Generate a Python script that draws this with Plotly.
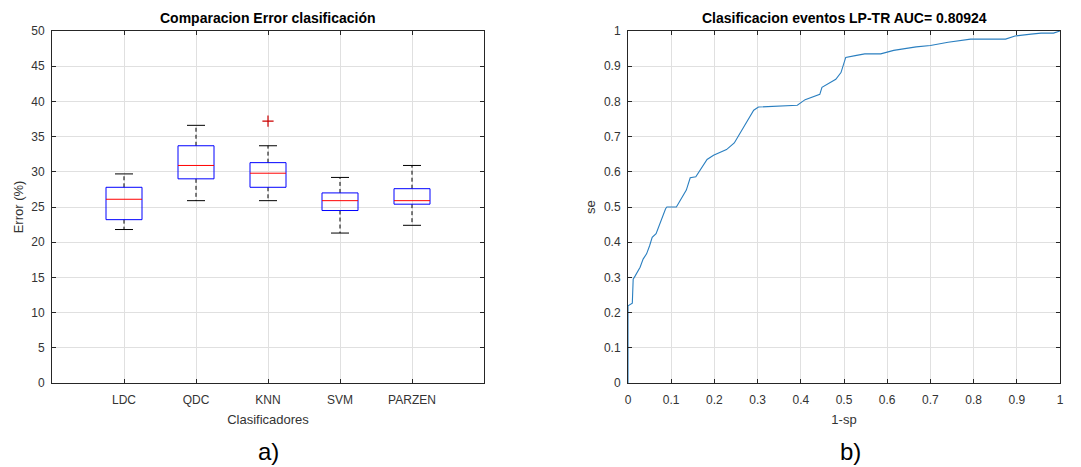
import plotly.graph_objects as go

# ---------------- data ----------------
categories = ["LDC", "QDC", "KNN", "SVM", "PARZEN"]
positions = [1, 2, 3, 4, 5]
lower_whisker = [21.8, 25.9, 25.9, 21.3, 22.4]
q1 = [23.2, 29.0, 27.8, 24.5, 25.4]
median = [26.1, 30.9, 29.8, 25.9, 25.9]
q3 = [27.8, 33.7, 31.3, 27.0, 27.6]
upper_whisker = [29.7, 36.6, 33.7, 29.2, 30.9]
outlier_pos = [3]
outlier_val = [37.2]

fpr = [0, 0, 0.01, 0.012, 0.017, 0.028, 0.035, 0.043, 0.05, 0.056, 0.065, 0.072,
       0.087, 0.09, 0.112, 0.135, 0.144, 0.157, 0.168, 0.183, 0.198, 0.228, 0.246,
       0.257, 0.272, 0.291, 0.302, 0.392, 0.41, 0.444, 0.449, 0.466, 0.481, 0.493,
       0.504, 0.526, 0.548, 0.585, 0.615, 0.667, 0.7, 0.741, 0.793, 0.874, 0.896,
       0.933, 0.956, 0.985, 1.0]
tpr = [0, 0.219, 0.227, 0.295, 0.305, 0.329, 0.352, 0.367, 0.39, 0.414, 0.424, 0.448,
       0.495, 0.5, 0.5, 0.548, 0.583, 0.586, 0.607, 0.635, 0.647, 0.663, 0.682,
       0.705, 0.733, 0.775, 0.784, 0.789, 0.805, 0.82, 0.84, 0.851, 0.863, 0.882,
       0.925, 0.93, 0.935, 0.935, 0.945, 0.955, 0.959, 0.968, 0.977, 0.977, 0.986,
       0.991, 0.994, 0.994, 1.0]

auc_value = "0.80924"

# ---------------- styling ----------------
BOX_W = 0.5
CAP_W = 0.25
FONT = "Liberation Sans, Arial, sans-serif"
TICK_COLOR = "#333333"
AX_COLOR = "#262626"
GRID = "#e0e0e0"

# ---------------- build box-plot marks ----------------
bx, by = [], []
mx, my = [], []
wx, wy = [], []
cx, cy = [], []
for p, lo, a, m, b, hi in zip(positions, lower_whisker, q1, median, q3, upper_whisker):
    h = BOX_W / 2
    bx += [p - h, p + h, p + h, p - h, p - h, None]
    by += [a, a, b, b, a, None]
    mx += [p - h, p + h, None]
    my += [m, m, None]
    wx += [p, p, None, p, p, None]
    wy += [b, hi, None, a, lo, None]
    c = CAP_W / 2
    cx += [p - c, p + c, None, p - c, p + c, None]
    cy += [hi, hi, None, lo, lo, None]

fig = go.Figure()
fig.add_trace(go.Scatter(x=wx, y=wy, mode="lines", xaxis="x", yaxis="y",
                         line=dict(color="black", width=1, dash="4px,3px"),
                         showlegend=False, hoverinfo="skip"))
fig.add_trace(go.Scatter(x=cx, y=cy, mode="lines", xaxis="x", yaxis="y",
                         line=dict(color="black", width=1),
                         showlegend=False, hoverinfo="skip"))
fig.add_trace(go.Scatter(x=bx, y=by, mode="lines", xaxis="x", yaxis="y",
                         line=dict(color="#0000ff", width=1),
                         showlegend=False, hoverinfo="skip"))
fig.add_trace(go.Scatter(x=mx, y=my, mode="lines", xaxis="x", yaxis="y",
                         line=dict(color="#ff0000", width=1),
                         showlegend=False, hoverinfo="skip"))
fig.add_trace(go.Scatter(x=outlier_pos, y=outlier_val, mode="markers", xaxis="x", yaxis="y",
                         marker=dict(symbol="cross-thin", size=8,
                                     line=dict(color="#cc0000", width=1.2)),
                         showlegend=False, hoverinfo="skip"))

# ---------------- ROC curve ----------------
fig.add_trace(go.Scatter(x=fpr, y=tpr, mode="lines", xaxis="x2", yaxis="y2",
                         line=dict(color="#2a7fc0", width=1.1),
                         showlegend=False, hoverinfo="skip"))

W, H = 1081, 467
L1, R1 = 52, 484
L2, R2 = 628, 1060
TOP, BOT = 31, 383
ydom = [1 - BOT / H, 1 - TOP / H]

axis_common = dict(
    showline=True, linecolor=AX_COLOR, linewidth=1, mirror="ticks",
    ticks="inside", ticklen=4, tickcolor=AX_COLOR, tickwidth=1,
    showgrid=True, gridcolor=GRID, gridwidth=1, zeroline=False,
    automargin=False,
    tickfont=dict(family=FONT, size=12, color=TICK_COLOR),
    title_font=dict(family=FONT, size=13, color=TICK_COLOR),
)

fig.update_layout(
    width=W, height=H,
    margin=dict(l=0, r=0, t=0, b=0),
    paper_bgcolor="white", plot_bgcolor="white",
    xaxis=dict(domain=[L1 / W, R1 / W], range=[0, 6], anchor="y",
               tickmode="array", tickvals=positions, ticktext=categories,
               ticklabelstandoff=6,
               title=dict(text="Clasificadores", standoff=8), **axis_common),
    yaxis=dict(domain=ydom, range=[0, 50], dtick=5, anchor="x",
               ticklabelstandoff=4,
               title=dict(text="Error (%)", standoff=4), **axis_common),
    xaxis2=dict(domain=[L2 / W, R2 / W], range=[0, 1], dtick=0.1, anchor="y2",
                ticklabelstandoff=6,
                title=dict(text="1-sp", standoff=8), **axis_common),
    yaxis2=dict(domain=ydom, range=[0, 1], dtick=0.1, anchor="x2",
                ticklabelstandoff=4,
                title=dict(text="se", standoff=5), **axis_common),
    annotations=[
        dict(text="<b>Comparacion Error clasificación</b>", x=(L1 + R1) / 2 / W, y=1 - 18 / H,
             xref="paper", yref="paper", showarrow=False, xanchor="center", yanchor="middle",
             font=dict(family=FONT, size=14, color="black")),
        dict(text="<b>Clasificacion eventos LP-TR AUC= " + auc_value + "</b>",
             x=(L2 + R2) / 2 / W, y=1 - 18 / H,
             xref="paper", yref="paper", showarrow=False, xanchor="center", yanchor="middle",
             font=dict(family=FONT, size=14, color="black")),
        dict(text="a)", x=(L1 + R1) / 2 / W, y=1 - 451 / H,
             xref="paper", yref="paper", showarrow=False, xanchor="center", yanchor="middle",
             font=dict(family=FONT, size=24, color="black")),
        dict(text="b)", x=(L2 + R2) / 2 / W + 6 / W, y=1 - 451 / H,
             xref="paper", yref="paper", showarrow=False, xanchor="center", yanchor="middle",
             font=dict(family=FONT, size=24, color="black")),
    ],
)

fig.write_html(
    "out.html",
    config={"displayModeBar": False},
    post_script="document.body.style.margin='0';document.body.style.overflow='hidden';",
)
